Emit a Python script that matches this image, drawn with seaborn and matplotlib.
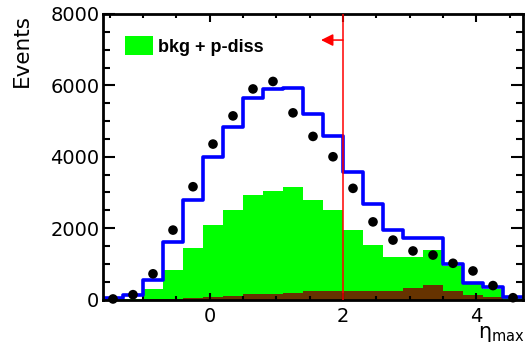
import numpy as np
import pandas as pd
import matplotlib
matplotlib.use("Agg")
import matplotlib.pyplot as plt
import seaborn as sns
from matplotlib.patches import Patch
from matplotlib.ticker import MultipleLocator

# Binning of eta_max: 21 bins of width 0.3 starting at -1.6
bin_low = -1.6
bin_width = 0.3
n_bins = 21

# Observed events per bin
data_events = [15, 135, 720, 1945, 3160, 4355, 5145, 5900, 6110, 5230, 4570,
               4000, 3115, 2175, 1665, 1360, 1245, 1015, 800, 390, 50]
# Total Monte Carlo prediction
mc_total = [50, 120, 545, 1600, 2790, 4000, 4845, 5650, 5885, 5940, 5205,
            4580, 3575, 2680, 1960, 1710, 1725, 990, 465, 360, 70]
# Background + proton-dissociation contribution
bkg_pdiss = [0, 20, 285, 830, 1445, 2090, 2500, 2920, 3050, 3145, 2800,
             2500, 1960, 1540, 1195, 1180, 1395, 930, 440, 300, 30]
# Remaining background component
bkg_other = [0, 0, 5, 10, 35, 75, 100, 145, 155, 190, 225,
             230, 230, 235, 250, 310, 400, 245, 120, 60, 0]

cut_value = 2.0
legend_label = "bkg + p-diss"
x_label = r"$\mathregular{\eta_{max}}$"
y_label = "Events"

bin_high = bin_low + n_bins * bin_width
centers = bin_low + bin_width * (np.arange(n_bins) + 0.5)

df = pd.DataFrame({
    "eta": centers,
    "data": data_events,
    "mc": mc_total,
    "bkg": bkg_pdiss,
    "other": bkg_other,
})

plt.rcParams["font.family"] = ["DejaVu Sans"]
W, H = 526, 354
fig = plt.figure(figsize=(W / 100, H / 100), dpi=100)
ax_l, ax_r, ax_t, ax_b = 103, 523, 14, 299.5
ax = fig.add_axes([ax_l / W, 1 - ax_b / H, (ax_r - ax_l) / W, (ax_b - ax_t) / H])

hist_kw = dict(data=df, x="eta", bins=n_bins, binrange=(bin_low, bin_high),
               element="step", ax=ax)
sns.histplot(weights="bkg", fill=True, color="#00ff00", alpha=1,
             linewidth=0, **hist_kw)
sns.histplot(weights="other", fill=True, color="#663300", alpha=1,
             linewidth=0, **hist_kw)
sns.histplot(weights="mc", fill=False, color="#0000ff", linewidth=2.6,
             **hist_kw)

ax.axvline(cut_value, color="#ff0000", lw=1.1, zorder=4)
ax.annotate("", xy=(cut_value - 0.33, 7270), xytext=(cut_value, 7270),
            arrowprops=dict(arrowstyle="-|>", color="#ff0000", lw=1.1,
                            mutation_scale=18, shrinkA=0, shrinkB=0))

sns.scatterplot(data=df, x="eta", y="data", color="black", s=48,
                edgecolor="none", ax=ax, zorder=6, clip_on=False)

ax.set_xlim(bin_low, bin_high)
ax.set_ylim(0, 8000)

ax.xaxis.set_major_locator(MultipleLocator(2))
ax.xaxis.set_minor_locator(MultipleLocator(0.5))
ax.yaxis.set_major_locator(MultipleLocator(2000))
ax.yaxis.set_minor_locator(MultipleLocator(500))
ax.tick_params(which="both", direction="in", top=True, right=True,
               width=1.5, color="black", labelsize=14)
ax.tick_params(axis="y", which="major", length=8.6, pad=2.7)
ax.tick_params(axis="y", which="minor", length=5)
ax.tick_params(axis="x", which="major", length=5.4, pad=5.5)
ax.tick_params(axis="x", which="minor", length=3)

for sp in ax.spines.values():
    sp.set_linewidth(2)
    sp.set_color("black")

ax.set_ylabel(y_label, fontsize=15.5, loc="top")
ax.yaxis.set_label_coords((32 - ax_l) / (ax_r - ax_l), 1.0)
ax.set_xlabel(x_label, fontsize=15, loc="right")
ax.xaxis.set_label_coords(1.005, (ax_b - 324) / (ax_b - ax_t))

handle = Patch(facecolor="#00ff00", edgecolor="none", label=legend_label)
ax.legend(handles=[handle], loc="upper left",
          bbox_to_anchor=((125 - ax_l) / (ax_r - ax_l), (ax_b - 36) / (ax_b - ax_t)),
          frameon=False, borderpad=0, borderaxespad=0,
          handlelength=1.55, handleheight=1.28, handletextpad=0.3,
          prop={"family": "Liberation Sans", "weight": "bold", "size": 13})

fig.savefig("out.png", dpi=100)
